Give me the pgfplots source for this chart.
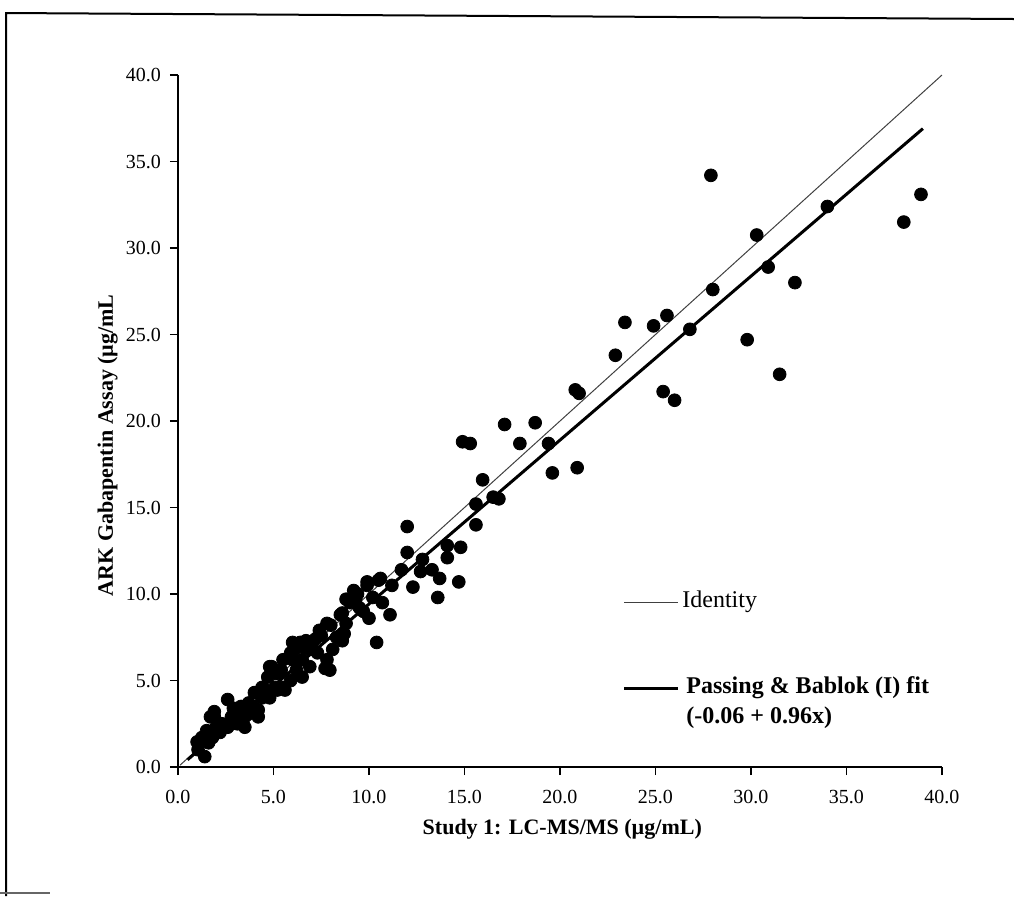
\documentclass[border=0pt]{standalone}
\usepackage{pgfplots}
\pgfplotsset{compat=1.18}
\usepackage{fontspec}
\setmainfont{Liberation Serif}
\begin{document}
\begin{tikzpicture}
\path[use as bounding box] (0pt,0pt) rectangle (507pt,-448pt);
% outer frame (scan)
\draw[line width=1pt] (3pt,-448pt) -- (3pt,-6.5pt) -- (507pt,-9.5pt);
\draw[line width=0.6pt,black!60] (0pt,-446.5pt) -- (25pt,-446.5pt);
\begin{axis}[
  at={(89pt,-383.5pt)}, anchor=south west,
  scale only axis, width=382pt, height=346pt,
  xmin=0, xmax=40, ymin=0, ymax=40,
  axis x line=bottom, axis y line=left,
  axis line style={-, line width=1pt},
  tick align=outside, major tick length=4pt,
  tick style={line width=0.8pt, black},
  xtick={0,5,...,40}, ytick={0,5,...,40},
  /pgf/number format/.cd, fixed, fixed zerofill, precision=1, assume math mode=true,
  /pgfplots/.cd,
  ticklabel style={font=\fontsize{10}{12}\selectfont},
  xticklabel style={yshift=-4pt},
  yticklabel style={xshift=-1pt},
  xlabel={\textbf{Study 1: LC-MS/MS (µg/mL)}},
  ylabel={\textbf{ARK Gabapentin Assay (µg/mL}},
  xlabel style={at={(rel axis cs:0.503,-0.09)}, anchor=center, font=\fontsize{11}{12}\selectfont},
  ylabel style={at={(rel axis cs:-0.092,0.465)}, anchor=center, font=\fontsize{11}{12}\selectfont},
  clip=false,
]
\addplot[black!75, line width=0.5pt] coordinates {(0.1,0.1) (40,40)};
\addplot[black, line width=1.5pt] coordinates {(0.5,0.42) (39,36.9)};
\addplot[only marks, mark=*, mark size=3.2pt, black] table {
x y
1.05 1.0
1.4 0.6
1.0 1.45
1.6 1.4
1.25 1.7
1.8 1.7
1.5 2.1
1.9 3.2
1.7 2.9
1.9 2.9
2.3 2.5
2.0 2.3
2.2 2.0
2.6 2.3
2.6 3.9
2.8 2.9
3.1 2.5
3.3 2.5
3.5 2.3
3.3 3.5
3.7 3.7
4.0 4.3
4.2 2.9
4.2 3.3
3.4 2.6
4.4 4.0
4.1 4.3
4.8 4.0
4.4 4.6
5.2 4.45
5.5 4.6
4.9 5.8
4.7 5.2
5.1 4.6
5.6 4.45
5.4 5.6
6.0 6.2
6.1 6.8
4.8 5.8
5.2 5.4
5.9 5.0
6.5 5.2
5.5 6.2
6.5 6.2
6.2 5.6
6.9 5.8
5.9 6.6
6.0 7.2
6.4 7.2
6.7 7.3
6.9 6.8
7.3 6.6
7.8 6.2
7.7 5.7
7.95 5.6
8.1 6.8
8.3 7.5
8.6 7.3
7.4 7.9
7.8 8.3
8.8 8.3
8.5 8.8
9.0 9.5
9.5 9.2
9.4 10.0
9.9 10.5
10.5 10.8
11.1 8.8
10.4 7.2
10.0 8.6
8.7 7.7
8.6 8.9
9.7 9.0
10.2 9.8
8.8 9.7
9.2 10.2
10.7 9.5
9.9 10.7
11.2 10.5
10.6 10.9
12.3 10.4
13.6 9.8
11.7 11.4
12.7 11.3
13.3 11.4
13.7 10.9
14.7 10.7
12.0 12.4
12.8 12.0
14.1 12.8
14.8 12.7
14.1 12.1
12.0 13.9
15.6 15.2
15.6 14.0
3.0 3.3
3.6 3.0
2.9 3.4
3.9 3.5
4.5 4.5
7.0 7.0
7.5 7.6
8.0 8.2
9.3 9.7
7.2 7.4
6.6 6.9
16.5 15.6
16.8 15.5
15.95 16.6
19.6 17.0
20.9 17.3
14.9 18.8
15.3 18.7
17.9 18.7
19.4 18.7
17.1 19.8
18.7 19.9
20.8 21.8
21.0 21.6
22.9 23.8
23.4 25.7
24.9 25.5
25.6 26.1
26.8 25.3
25.4 21.7
26.0 21.2
27.9 34.2
28.0 27.6
29.8 24.7
30.3 30.75
30.9 28.9
31.5 22.7
32.3 28.0
34.0 32.4
38.0 31.5
38.9 33.1
};
\end{axis}
% legend
\draw[black!75, line width=0.5pt] (312pt,-301pt) -- (339pt,-301pt);
\node[anchor=west, inner sep=0pt, font=\fontsize{12}{14}\selectfont] at (341pt,-301pt) {Identity};
\draw[black, line width=1.5pt] (312pt,-344pt) -- (339pt,-344pt);
\node[anchor=west, inner sep=0pt, font=\fontsize{12}{14}\selectfont\bfseries] at (343pt,-344pt) {Passing \& Bablok (I) fit};
\node[anchor=west, inner sep=0pt, font=\fontsize{12}{14}\selectfont\bfseries] at (343pt,-359pt) {(-0.06 + 0.96x)};
\end{tikzpicture}
\end{document}
